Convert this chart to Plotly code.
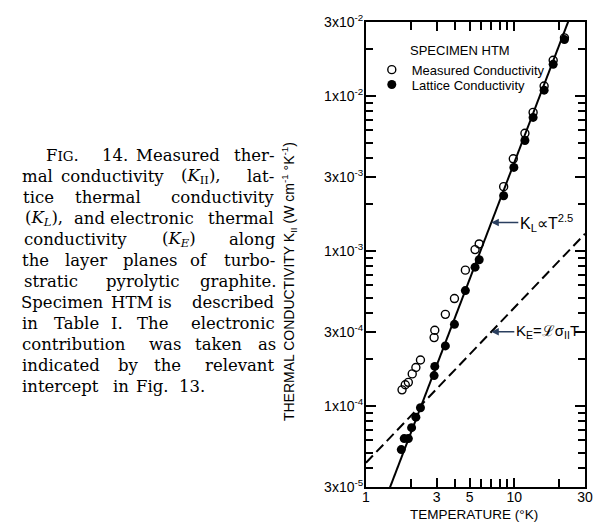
import math
import plotly.graph_objects as go

# Measured thermal conductivity, specimen HTM (temperature in °K, K in W cm^-1 °K^-1)
T_measured = [1.75, 1.84, 1.93, 2.05, 2.17, 2.33, 2.88, 2.91, 3.43, 3.95,
              4.68, 5.44, 5.80, 8.48, 9.85, 11.8, 13.4, 15.9, 18.3, 21.8]
K_measured = [1.27e-4, 1.37e-4, 1.42e-4, 1.61e-4, 1.77e-4, 1.98e-4, 2.76e-4, 3.08e-4,
              3.90e-4, 4.93e-4, 7.52e-4, 1.02e-3, 1.11e-3, 2.60e-3, 3.93e-3, 5.74e-3,
              7.83e-3, 1.16e-2, 1.70e-2, 2.37e-2]

# Lattice conductivity (measured minus electronic part)
T_lattice = [1.73, 1.81, 1.93, 2.03, 2.17, 2.33, 2.88, 2.91, 3.43, 3.95,
             4.68, 5.44, 5.80, 8.48, 9.94, 11.8, 13.4, 15.9, 18.3, 21.8]
K_lattice = [5.23e-5, 6.16e-5, 6.16e-5, 7.24e-5, 8.47e-5, 9.73e-5, 1.57e-4, 1.80e-4,
             2.44e-4, 3.36e-4, 5.55e-4, 7.86e-4, 8.77e-4, 2.27e-3, 3.46e-3, 5.16e-3,
             7.27e-3, 1.09e-2, 1.60e-2, 2.31e-2]

# Fitted laws: K_L = A T^2.5 and K_E = B T
KL_coef = 1.175e-5
KL_exponent = 2.5
KE_coef = 4.3e-5
T_line = [1.0, 30.0]
T_arrow = 7.0  # temperature where the label arrows meet the lines

# Axis ticks
x_tickvals = [1, 3, 5, 10, 30]
x_ticktext = ["1", "3", "5", "10", "30"]
x_minor = [2, 4, 6, 7, 8, 9, 20]
y_tickvals = [3e-5, 1e-4, 3e-4, 1e-3, 3e-3, 1e-2, 3e-2]
y_ticktext = ["3x10<sup>-5</sup>", "1x10<sup>-4</sup>", "3x10<sup>-4</sup>",
              "1x10<sup>-3</sup>", "3x10<sup>-3</sup>", "1x10<sup>-2</sup>",
              "3x10<sup>-2</sup>"]
y_minor = [m * d for d in (1e-5, 1e-4, 1e-3, 1e-2) for m in (2, 4, 5, 6, 7, 8, 9)]
y_minor = [v for v in y_minor if 3e-5 < v < 3e-2]

# Figure caption, word by word: (text, centre of the word in px) for a justified block
caption_lines = [
    [("F<span style='font-size:13.5px'>IG</span>.", 56.5), ("14.", 111), ("Measured", 176.5), ("ther-", 255)],
    [("mal", 31), ("conductivity", 108), ("(<i>K</i><sub>II</sub>),", 200), ("lat-", 262)],
    [("tice", 31.5), ("thermal", 104), ("conductivity", 222)],
    [("(<i>K<sub>L</sub></i>),", 37), ("and", 84), ("electronic", 149), ("thermal", 241)],
    [("conductivity", 70), ("(<i>K<sub>E</sub></i>)", 177), ("along", 253)],
    [("the", 28.5), ("layer", 80.8), ("planes", 147.6), ("of", 197.4), ("turbo-", 250)],
    [("stratic", 44), ("pyrolytic", 139.6), ("graphite.", 238)],
    [("Specimen", 56), ("HTM", 128), ("is", 163), ("described", 234)],
    [("in", 23), ("Table", 71.2), ("I.", 113.1), ("The", 149.2), ("electronic", 233)],
    [("contribution", 68.5), ("was", 163), ("taken", 218), ("as", 268)],
    [("indicated", 55), ("by", 124.8), ("the", 165), ("relevant", 240)],
    [("intercept", 54), ("in", 117.4), ("Fig.", 150.2), ("13.", 190.5)],
]
caption_shift = -5  # horizontal nudge of the whole caption block, px

W, H = 605, 523
L, R, TOP, BOT = 366, 593, 19, 487


def px_x(px):
    return (px - L) / (R - L)


def px_y(py):
    return (BOT - py) / (BOT - TOP)


SANS = "Liberation Sans, Arial, sans-serif"
SERIF = "DejaVu Serif, serif"

fig = go.Figure()

fig.add_trace(go.Scatter(
    x=T_line, y=[KL_coef * t ** KL_exponent for t in T_line],
    mode="lines", line=dict(color="black", width=2), showlegend=False, hoverinfo="skip"))
fig.add_trace(go.Scatter(
    x=T_line, y=[KE_coef * t for t in T_line],
    mode="lines", line=dict(color="black", width=2, dash="10px,5px"),
    showlegend=False, hoverinfo="skip"))

fig.add_trace(go.Scatter(
    x=T_measured, y=K_measured, mode="markers", name="Measured Conductivity",
    marker=dict(symbol="circle-open", size=8, color="black", line=dict(width=1.4)),
    legend="legend"))
fig.add_trace(go.Scatter(
    x=T_lattice, y=K_lattice, mode="markers", name="Lattice Conductivity",
    marker=dict(symbol="circle", size=9, color="black"),
    legend="legend2"))

axis_common = dict(
    type="log", showgrid=False, zeroline=False, showline=True, linecolor="black",
    linewidth=2, mirror="ticks", ticks="inside", tickcolor="black", tickwidth=1.5,
    tickfont=dict(family=SANS, size=14, color="black"),
)

fig.update_xaxes(
    **axis_common, range=[0, math.log10(30)], tickvals=x_tickvals, ticktext=x_ticktext,
    ticklen=9, ticklabelstandoff=-4,
    minor=dict(tickvals=x_minor, ticks="inside", ticklen=8,
               tickcolor="black", tickwidth=1.5))
fig.update_yaxes(
    **axis_common, range=[math.log10(3e-5), math.log10(3e-2)],
    tickvals=y_tickvals, ticktext=y_ticktext, ticklen=10, ticklabelstandoff=-2,
    minor=dict(tickvals=y_minor, ticks="inside", ticklen=7,
               tickcolor="black", tickwidth=1.5))

annotations = []

# Law labels with arrows pointing at the fitted lines
annotations.append(dict(
    x=math.log10(T_arrow), y=math.log10(KL_coef * T_arrow ** KL_exponent),
    xref="x", yref="y",
    text="K<sub>L</sub>\u221dT<sup>2.5</sup>", showarrow=True, arrowhead=2,
    arrowsize=1, arrowwidth=1.5, ax=55, ay=0, axref="pixel", ayref="pixel",
    font=dict(family=SANS, size=16, color="black")))
annotations.append(dict(
    x=math.log10(T_arrow), y=math.log10(KE_coef * T_arrow),
    xref="x", yref="y",
    text="K<sub>E</sub>=\u2112\u03c3<sub>II</sub>T", showarrow=True, arrowhead=2,
    arrowsize=1, arrowwidth=1.5, ax=56, ay=0, axref="pixel", ayref="pixel",
    font=dict(family=SANS, size=15, color="black")))

annotations.append(dict(
    x=px_x(463), y=px_y(48), xref="paper", yref="paper", text="SPECIMEN HTM",
    showarrow=False, xanchor="center", yanchor="middle",
    font=dict(family=SANS, size=13, color="black")))

# Axis titles
annotations.append(dict(
    x=px_x(287), y=px_y(280), xref="paper", yref="paper", textangle=-90,
    text="THERMAL CONDUCTIVITY K<sub>II</sub> (W cm<sup>-1</sup> \u00b0K<sup>-1</sup>)",
    showarrow=False, xanchor="center", yanchor="middle",
    font=dict(family=SANS, size=14, color="black")))
annotations.append(dict(
    x=px_x(478), y=px_y(515), xref="paper", yref="paper",
    text="TEMPERATURE (\u00b0K)", showarrow=False, xanchor="center", yanchor="middle",
    font=dict(family=SANS, size=13.5, color="black")))

# Caption set as a justified block, one text per word
line_y0, line_step = 153, 21.2
for i, words in enumerate(caption_lines):
    y = px_y(line_y0 + i * line_step)
    for word, centre in words:
        annotations.append(dict(
            x=px_x(centre + caption_shift), y=y, xref="paper", yref="paper", text=word,
            showarrow=False, xanchor="center", yanchor="middle",
            font=dict(family=SERIF, size=16.5, color="black")))

legend_common = dict(
    xanchor="left", yanchor="middle", bgcolor="rgba(0,0,0,0)", borderwidth=0,
    font=dict(family=SANS, size=13, color="black"), itemwidth=30)

fig.update_layout(
    width=W, height=H,
    margin=dict(l=L, r=W - R, t=TOP, b=H - BOT),
    paper_bgcolor="white", plot_bgcolor="white",
    annotations=annotations,
    legend=dict(x=px_x(372), y=px_y(67), **legend_common),
    legend2=dict(x=px_x(372), y=px_y(82), **legend_common),
)

fig.write_html("out.html")
